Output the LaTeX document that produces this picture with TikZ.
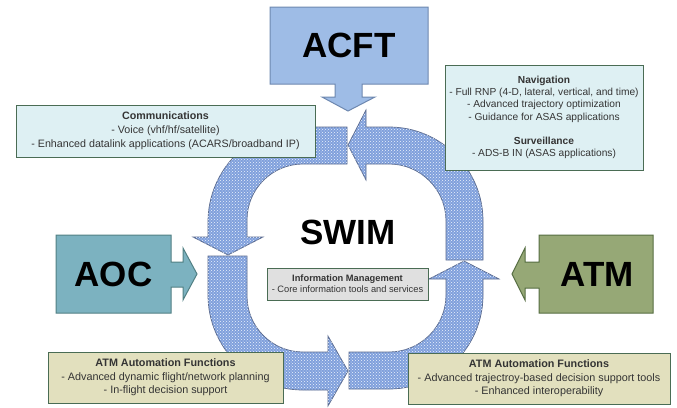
\documentclass[tikz,border=0pt]{standalone}
\usepackage{fontspec}
\usetikzlibrary{patterns}
\setmainfont{Liberation Sans}
\definecolor{ringbase}{RGB}{128,160,220}
\definecolor{ringdots}{RGB}{236,242,252}
\definecolor{ringedge}{RGB}{88,104,140}
\definecolor{acftfill}{RGB}{158,188,230}
\definecolor{acftedge}{RGB}{110,136,176}
\definecolor{aocfill}{RGB}{124,178,192}
\definecolor{aocedge}{RGB}{82,128,132}
\definecolor{atmfill}{RGB}{150,168,118}
\definecolor{atmedge}{RGB}{86,110,66}
\definecolor{cyanbox}{RGB}{222,240,243}
\definecolor{greybox}{RGB}{224,224,224}
\definecolor{khakibox}{RGB}{226,224,190}
\definecolor{boxedge}{RGB}{74,108,84}
\definecolor{textgrey}{RGB}{52,52,52}
\begin{document}
\begin{tikzpicture}[x=1pt,y=-1pt,
  ringarrow/.style={fill=ringbase, draw=ringedge, line width=0.7pt, line join=miter,
    postaction={pattern=crosshatch dots, pattern color=ringdots}},
  bigarrow/.style={line width=1pt, line join=miter},
  biglabel/.style={inner sep=0pt, font=\fontsize{35}{35}\selectfont\bfseries, text=black},
  infobox/.style={draw=boxedge, line width=0.9pt, align=center, inner sep=0pt, text=textgrey}]
\useasboundingbox[fill=white] (0,0) rectangle (677,407);

% --- SWIM cycle: four quarter-ring arrows, running counterclockwise ---
% top -> left
\draw[ringarrow] (347,127) -- (303,127) arc[start angle=270, end angle=180, radius=95]
  -- (208,237) -- (193,237) -- (228,255) -- (263,237) -- (247,237) -- (247,220)
  arc[start angle=180, end angle=270, radius=56] -- (347,164) -- cycle;
% left -> bottom
\draw[ringarrow] (208,256) -- (208,295) arc[start angle=180, end angle=90, radius=95]
  -- (328,390) -- (328,406) -- (348,371) -- (328,336) -- (328,352) -- (303,352)
  arc[start angle=90, end angle=180, radius=56] -- (247,256) -- cycle;
% bottom -> right
\draw[ringarrow] (349,389) -- (389,389) arc[start angle=90, end angle=0, radius=94]
  -- (483,279) -- (499,279) -- (464,261) -- (429,279) -- (446,279) -- (446,295)
  arc[start angle=0, end angle=90, radius=57] -- (349,352) -- cycle;
% right -> top
\draw[ringarrow] (483,260) -- (483,221) arc[start angle=0, end angle=-90, radius=94]
  -- (366,127) -- (366,110) -- (348,145) -- (366,180) -- (366,164) -- (389,164)
  arc[start angle=-90, end angle=0, radius=57] -- (446,260) -- cycle;

\node[biglabel] (swim) at (348,232) {SWIM};

% --- description boxes ---
\node[infobox, fill=cyanbox, minimum width=299pt, minimum height=52pt,
  font=\fontsize{10.7}{14}\selectfont] (comms) at (165.5,131)
  {\textbf{Communications}\\- Voice (vhf/hf/satellite)\\- Enhanced datalink applications (ACARS/broadband IP)};

\node[infobox, fill=cyanbox, minimum width=198pt, minimum height=105pt,
  font=\fontsize{10.2}{12.3}\selectfont] (nav) at (544,117.5)
  {\textbf{Navigation}\\- Full RNP (4-D, lateral, vertical, and time)\\- Advanced trajectory optimization\\- Guidance for ASAS applications\\[12pt]\textbf{Surveillance}\\- ADS-B IN (ASAS applications)};

\node[infobox, fill=greybox, minimum width=161pt, minimum height=32pt,
  font=\fontsize{9.3}{11}\selectfont] (infomgmt) at (347.5,284)
  {\textbf{Information Management}\\- Core information tools and services};

\node[infobox, fill=khakibox, minimum width=235pt, minimum height=51pt,
  font=\fontsize{10.8}{13.5}\selectfont] (autoleft) at (165.5,377.5)
  {\textbf{ATM Automation Functions}\\- Advanced dynamic flight/network planning\\- In-flight decision support};

\node[infobox, fill=khakibox, minimum width=262pt, minimum height=51pt,
  font=\fontsize{10.8}{13.5}\selectfont] (autoright) at (539,378.5)
  {\textbf{ATM Automation Functions}\\- Advanced trajectroy-based decision support tools\\- Enhanced interoperability};

% --- the three domains feeding SWIM ---
\draw[bigarrow, fill=acftfill, draw=acftedge] (270,7) -- (428,7) -- (428,84) -- (362,84)
  -- (362,97) -- (375,97) -- (348,111) -- (322,97) -- (335,97) -- (335,84) -- (270,84) -- cycle;
\node[biglabel] (acft) at (349,45) {ACFT};

\draw[bigarrow, fill=aocfill, draw=aocedge] (56,235) -- (171,235) -- (171,262) -- (183,262)
  -- (183,248) -- (197,274) -- (183,300) -- (183,287) -- (171,287) -- (171,313) -- (56,313) -- cycle;
\node[biglabel] (aoc) at (113.5,274) {AOC};

\draw[bigarrow, fill=atmfill, draw=atmedge] (653,235) -- (539,235) -- (539,262) -- (525,262)
  -- (525,248) -- (512,274) -- (525,300) -- (525,288) -- (539,288) -- (539,313) -- (653,313) -- cycle;
\node[biglabel] (atm) at (597,274) {ATM};
\end{tikzpicture}
\end{document}
